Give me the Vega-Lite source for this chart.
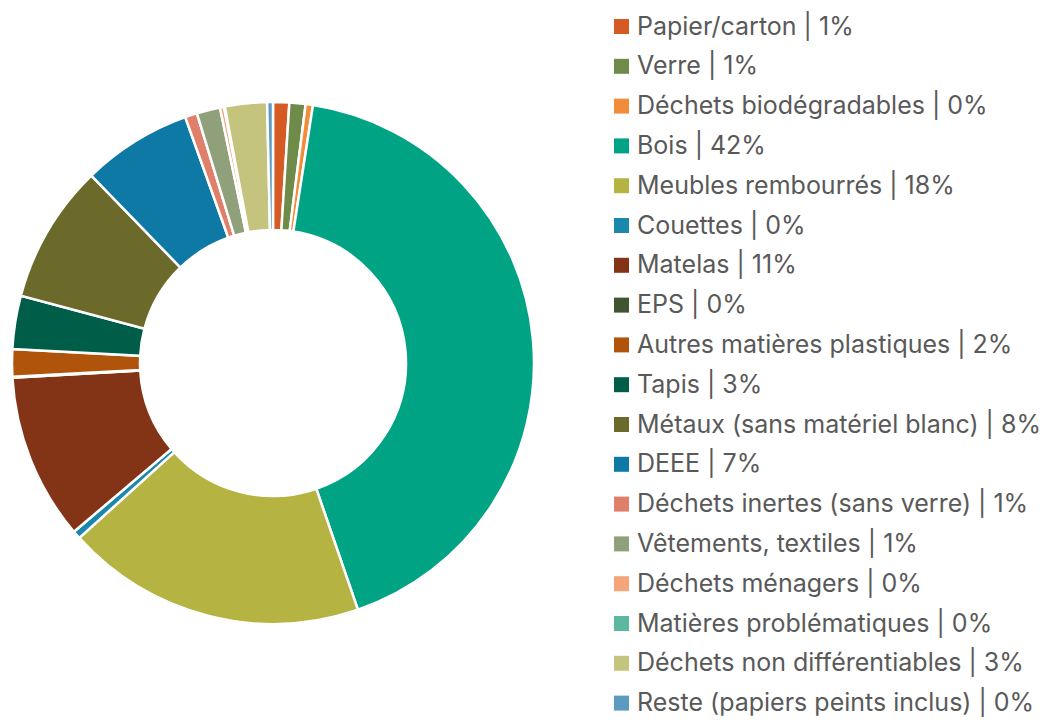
{
  "$schema": "https://vega.github.io/schema/vega-lite/v6.json",
  "width": 546,
  "height": 726,
  "autosize": {"type": "none"},
  "padding": {"left": 0, "top": 0, "right": 502, "bottom": 0},
  "background": "white",
  "config": {"view": {"stroke": null}},
  "data": {
    "values": [
      {"idx": 1, "label": "Papier/carton | 1%", "value": 1.0},
      {"idx": 2, "label": "Verre | 1%", "value": 1.0},
      {"idx": 3, "label": "Déchets biodégradables | 0%", "value": 0.45},
      {"idx": 4, "label": "Bois | 42%", "value": 42.3},
      {"idx": 5, "label": "Meubles rembourrés | 18%", "value": 18.6},
      {"idx": 6, "label": "Couettes | 0%", "value": 0.5},
      {"idx": 7, "label": "Matelas | 11%", "value": 10.3},
      {"idx": 8, "label": "EPS | 0%", "value": 0.05},
      {"idx": 9, "label": "Autres matières plastiques | 2%", "value": 1.7},
      {"idx": 10, "label": "Tapis | 3%", "value": 3.3},
      {"idx": 11, "label": "Métaux (sans matériel blanc) | 8%", "value": 8.6},
      {"idx": 12, "label": "DEEE | 7%", "value": 6.8},
      {"idx": 13, "label": "Déchets inertes (sans verre) | 1%", "value": 0.75},
      {"idx": 14, "label": "Vêtements, textiles | 1%", "value": 1.45},
      {"idx": 15, "label": "Déchets ménagers | 0%", "value": 0.25},
      {"idx": 16, "label": "Matières problématiques | 0%", "value": 0.05},
      {"idx": 17, "label": "Déchets  non différentiables | 3%", "value": 2.6},
      {"idx": 18, "label": "Reste (papiers peints inclus) | 0%", "value": 0.36}
    ]
  },
  "mark": {"type": "arc", "innerRadius": 133, "outerRadius": 261, "stroke": "white", "strokeWidth": 2.5},
  "encoding": {
    "theta": {"field": "value", "type": "quantitative", "stack": true},
    "order": {"field": "idx", "type": "quantitative"},
    "color": {
      "field": "label",
      "type": "nominal",
      "sort": null,
      "scale": {
        "domain": [
          "Papier/carton | 1%", "Verre | 1%", "Déchets biodégradables | 0%", "Bois | 42%",
          "Meubles rembourrés | 18%", "Couettes | 0%", "Matelas | 11%", "EPS | 0%",
          "Autres matières plastiques | 2%", "Tapis | 3%", "Métaux (sans matériel blanc) | 8%",
          "DEEE | 7%", "Déchets inertes (sans verre) | 1%", "Vêtements, textiles | 1%",
          "Déchets ménagers | 0%", "Matières problématiques | 0%",
          "Déchets  non différentiables | 3%", "Reste (papiers peints inclus) | 0%"
        ],
        "range": [
          "#D65A24", "#6E8B4A", "#F08C3A", "#00A383",
          "#B5B442", "#1A87AD", "#843416", "#3F5530",
          "#B0540C", "#005E48", "#6B6A2A",
          "#0E79A4", "#E0806A", "#8FA07A",
          "#F4A57A", "#5CB89E",
          "#C4C47E", "#5B9BC0"
        ]
      },
      "legend": {
        "title": null,
        "orient": "none",
        "legendX": 609,
        "legendY": 14,
        "symbolType": "square",
        "symbolSize": 225,
        "symbolStrokeWidth": 0,
        "labelFont": "Inter",
        "labelFontSize": 25,
        "labelColor": "#595959",
        "labelOffset": 3,
        "labelLimit": 460,
        "rowPadding": 13.8
      }
    }
  }
}
